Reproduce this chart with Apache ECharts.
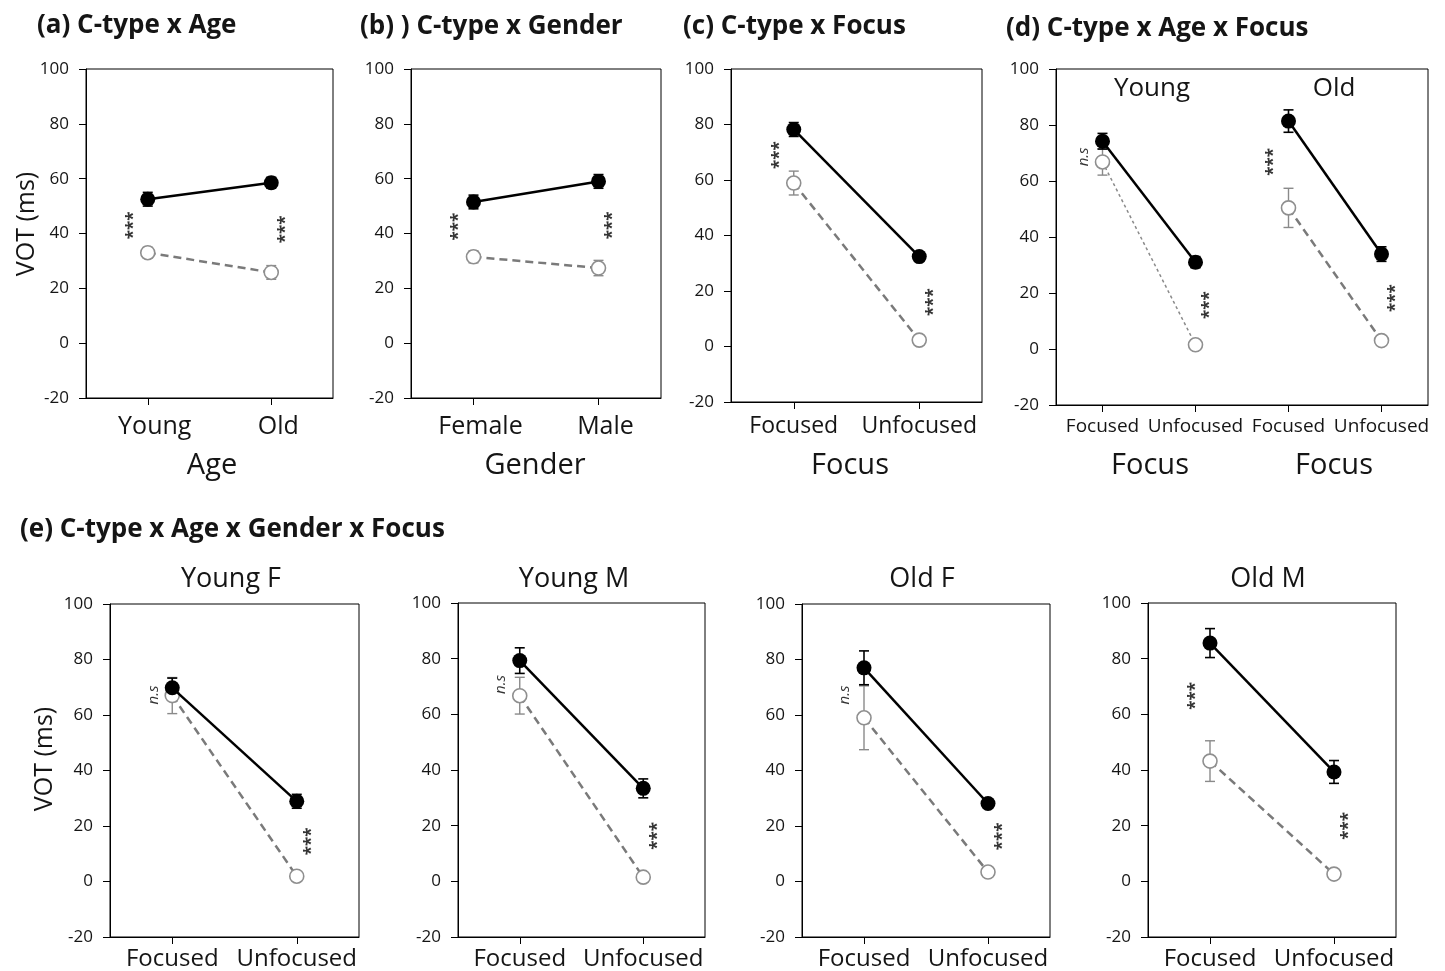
<!DOCTYPE html>
<html>
<head>
<meta charset="utf-8">
<script src="https://cdn.jsdelivr.net/npm/echarts@6/dist/echarts.min.js"></script>
<style>
  html, body { margin: 0; padding: 0; background: #fff; }
  #chart { width: 1445px; height: 971px; }
</style>
</head>
<body>
<div id="chart"></div>
<script>
// ---------------- DATA ----------------
// Panel (a) C-type x Age
const aCategories = ['Young', 'Old'];
const aFilled = [52.5, 58.5];
const aFilledErr = [2.5, 2.0];
const aOpen = [33.0, 25.8];
const aOpenErr = [2.0, 2.5];
const aSig = [[0, 43, '***', 'L'], [1, 41.5, '***', 'R']];

// Panel (b) C-type x Gender
const bCategories = ['Female', 'Male'];
const bFilled = [51.5, 59.0];
const bFilledErr = [2.5, 2.5];
const bOpen = [31.5, 27.4];
const bOpenErr = [2.2, 2.8];
const bSig = [[0, 42.5, '***', 'L'], [1, 43, '***', 'R']];

// Panel (c) C-type x Focus
const cCategories = ['Focused', 'Unfocused'];
const cFilled = [78.2, 32.4];
const cFilledErr = [2.5, 1.5];
const cOpen = [58.9, 2.3];
const cOpenErr = [4.3, 1.0];
const cSig = [[0, 69, '***', 'L'], [1, 16, '***', 'R']];

// Panel (d) C-type x Age x Focus
const dCategories = ['Focused', 'Unfocused', 'Focused', 'Unfocused'];
const dGroups = ['Young', 'Old'];
const dYoungFilled = [74.2, 31.0];
const dYoungFilledErr = [2.8, 2.0];
const dYoungOpen = [66.8, 1.5];
const dYoungOpenErr = [4.7, 0.8];
const dOldFilled = [81.4, 33.9];
const dOldFilledErr = [4.0, 2.6];
const dOldOpen = [50.4, 3.0];
const dOldOpenErr = [7.0, 1.0];
const dSig = [[0, 70.4, 'n.s', 'L'], [1, 15.7, '***', 'R'], [2, 66.8, '***', 'L'], [3, 18.2, '***', 'R']];

// Panel (e) C-type x Age x Gender x Focus
const eCategories = ['Focused', 'Unfocused'];
const eTitles = ['Young F', 'Young M', 'Old F', 'Old M'];
const eYoungFFilled = [69.8, 28.9];
const eYoungFFilledErr = [3.5, 2.5];
const eYoungFOpen = [67.0, 1.9];
const eYoungFOpenErr = [6.5, 1.0];
const eYoungFSig = [[0, 69, 'n.s', 'L'], [1, 14.5, '***', 'R']];

const eYoungMFilled = [79.3, 33.4];
const eYoungMFilledErr = [4.6, 3.4];
const eYoungMOpen = [66.7, 1.5];
const eYoungMOpenErr = [6.6, 1.0];
const eYoungMSig = [[0, 72.5, 'n.s', 'L'], [1, 16.3, '***', 'R']];

const eOldFFilled = [77.0, 28.1];
const eOldFFilledErr = [6.1, 1.5];
const eOldFOpen = [59.0, 3.4];
const eOldFOpenErr = [11.5, 1.0];
const eOldFSig = [[0, 69, 'n.s', 'L'], [1, 16.3, '***', 'R']];

const eOldMFilled = [85.6, 39.3];
const eOldMFilledErr = [5.2, 4.1];
const eOldMOpen = [43.2, 2.6];
const eOldMOpenErr = [7.3, 1.0];
const eOldMSig = [[0, 66.6, '***', 'L'], [1, 19.9, '***', 'R']];

const yMin = -20, yMax = 100, yInterval = 20;

// ---------------- LAYOUT ----------------
const FONT = "'Open Sans', 'Noto Sans', sans-serif";
const TXT = '#151515';
const grids = [
  { left: 86, top: 69, width: 247, height: 329 },   // a
  { left: 411, top: 69, width: 250, height: 329 },  // b
  { left: 731, top: 69, width: 251, height: 333 },  // c
  { left: 1056, top: 69, width: 372, height: 336 }, // d
  { left: 110, top: 604, width: 249, height: 334 }, // e1
  { left: 458, top: 603, width: 247, height: 335 }, // e2
  { left: 802, top: 604, width: 248, height: 334 }, // e3
  { left: 1148, top: 603, width: 248, height: 334 } // e4
];
const xLabelSize = [25, 25, 23, 19, 24, 24, 24, 24];
const xLabelMargin = [16, 16, 13, 12, 10, 10, 10, 10];
const xLabelPad = [[0, 0, 0, 14], [0, 0, 0, 14], 0, 0, 0, 0, 0, 0];
const xCats = [aCategories, bCategories, cCategories, dCategories, eCategories, eCategories, eCategories, eCategories];

const xAxes = [], yAxes = [], series = [];
grids.forEach((g, i) => {
  g.show = true; g.borderColor = '#000'; g.borderWidth = 1; g.containLabel = false;
  xAxes.push({
    type: 'category', gridIndex: i, data: xCats[i], boundaryGap: true,
    axisLine: { onZero: false, lineStyle: { color: '#000', width: 1 } },
    axisTick: { show: true, alignWithLabel: true, length: 7, lineStyle: { color: '#000' } },
    axisLabel: { color: TXT, fontSize: xLabelSize[i], fontFamily: FONT, margin: xLabelMargin[i],
                 interval: 0, padding: xLabelPad[i] },
    splitLine: { show: false }
  });
  yAxes.push({
    type: 'value', gridIndex: i, min: yMin, max: yMax, interval: yInterval,
    axisLine: { show: true, onZero: false, lineStyle: { color: '#000', width: 1 } },
    axisTick: { show: true, length: 7, lineStyle: { color: '#000' } },
    axisLabel: { color: TXT, fontSize: 17, fontFamily: FONT, margin: 17 },
    splitLine: { show: false }
  });
});

function errSeries(gi, idx, means, errs, color, width) {
  return {
    type: 'custom', xAxisIndex: gi, yAxisIndex: gi, z: 2, silent: true,
    data: means.map((m, k) => [idx[k], m, errs[k]]),
    renderItem: function (params, api) {
      const x = api.value(0), m = api.value(1), e = api.value(2);
      const t = api.coord([x, m + e]), b = api.coord([x, m - e]);
      const w = 5;
      const st = { stroke: color, lineWidth: width };
      return {
        type: 'group', children: [
          { type: 'line', shape: { x1: t[0], y1: t[1], x2: b[0], y2: b[1] }, style: st },
          { type: 'line', shape: { x1: t[0] - w, y1: t[1], x2: t[0] + w, y2: t[1] }, style: st },
          { type: 'line', shape: { x1: b[0] - w, y1: b[1], x2: b[0] + w, y2: b[1] }, style: st }
        ]
      };
    }
  };
}

function addGroup(gi, idx, filled, filledErr, open, openErr, openStyle) {
  series.push(errSeries(gi, idx, open, openErr, '#8a8a8a', 1.4));
  series.push(errSeries(gi, idx, filled, filledErr, '#000', 1.6));
  series.push({
    type: 'line', xAxisIndex: gi, yAxisIndex: gi, z: 3, silent: true,
    data: open.map((v, k) => [idx[k], v]),
    symbol: 'circle', symbolSize: 14,
    lineStyle: openStyle || { color: '#7a7a7a', width: 2.5, type: [8, 5] },
    itemStyle: { color: '#fff', borderColor: '#8f8f8f', borderWidth: 1.6 }
  });
  series.push({
    type: 'line', xAxisIndex: gi, yAxisIndex: gi, z: 4, silent: true,
    data: filled.map((v, k) => [idx[k], v]),
    symbol: 'circle', symbolSize: 15,
    lineStyle: { color: '#000', width: 2.5 },
    itemStyle: { color: '#000', borderColor: '#000', borderWidth: 0 }
  });
}

function addSig(gi, sig) {
  series.push({
    type: 'scatter', xAxisIndex: gi, yAxisIndex: gi, z: 5, silent: true,
    symbolSize: 1, itemStyle: { color: 'rgba(0,0,0,0)' },
    data: sig.map(s => {
      const ns = s[2] === 'n.s';
      const dx = s[3] === 'L' ? (ns ? -19 : -14) : 15;
      return {
        name: s[2], value: [s[0], s[1]],
        label: {
          show: true, position: 'inside', rotate: 90, offset: [ns ? -5 : 0, dx],
          formatter: '{b}', color: '#000', fontFamily: FONT,
          fontSize: ns ? 15 : 17, fontWeight: ns ? 'normal' : 'bold',
          fontStyle: ns ? 'italic' : 'normal'
        }
      };
    })
  });
}

addGroup(0, [0, 1], aFilled, aFilledErr, aOpen, aOpenErr); addSig(0, aSig);
addGroup(1, [0, 1], bFilled, bFilledErr, bOpen, bOpenErr); addSig(1, bSig);
addGroup(2, [0, 1], cFilled, cFilledErr, cOpen, cOpenErr); addSig(2, cSig);
addGroup(3, [0, 1], dYoungFilled, dYoungFilledErr, dYoungOpen, dYoungOpenErr,
  { color: '#8a8a8a', width: 1.5, type: [3, 3] });
addGroup(3, [2, 3], dOldFilled, dOldFilledErr, dOldOpen, dOldOpenErr);
addSig(3, dSig);
addGroup(4, [0, 1], eYoungFFilled, eYoungFFilledErr, eYoungFOpen, eYoungFOpenErr); addSig(4, eYoungFSig);
addGroup(5, [0, 1], eYoungMFilled, eYoungMFilledErr, eYoungMOpen, eYoungMOpenErr); addSig(5, eYoungMSig);
addGroup(6, [0, 1], eOldFFilled, eOldFFilledErr, eOldFOpen, eOldFOpenErr); addSig(6, eOldFSig);
addGroup(7, [0, 1], eOldMFilled, eOldMFilledErr, eOldMOpen, eOldMOpenErr); addSig(7, eOldMSig);

// ---------------- TEXT ----------------
function txt(text, x, y, size, opts) {
  opts = opts || {};
  return {
    type: 'text', x: x, y: y, rotation: opts.rot || 0, z: 10, silent: true,
    style: {
      text: text, fill: TXT, font: (opts.bold ? 'bold ' : '') + size + 'px ' + FONT,
      align: opts.align || 'center', verticalAlign: 'middle'
    }
  };
}
const graphic = [
  txt('(a) C-type x Age', 37, 26, 26, { bold: true, align: 'left' }),
  txt('(b) ) C-type x Gender', 360, 27, 26, { bold: true, align: 'left' }),
  txt('(c) C-type x Focus', 683, 27, 26, { bold: true, align: 'left' }),
  txt('(d) C-type x Age x Focus', 1006, 29, 26, { bold: true, align: 'left' }),
  txt('(e) C-type x Age x Gender x Focus', 20, 530, 26, { bold: true, align: 'left' }),
  txt('VOT (ms)', 27, 224, 25, { rot: Math.PI / 2 }),
  txt('VOT (ms)', 45, 759, 25, { rot: Math.PI / 2 }),
  txt('Age', 212, 466, 29),
  txt('Gender', 535, 466, 29),
  txt('Focus', 850, 466, 29),
  txt('Focus', 1150, 466, 29),
  txt('Focus', 1334, 466, 29),
  txt(dGroups[0], 1152, 89, 26),
  txt(dGroups[1], 1334, 89, 26),
  txt(eTitles[0], 231, 579, 27),
  txt(eTitles[1], 574, 579, 27),
  txt(eTitles[2], 922, 579, 27),
  txt(eTitles[3], 1268, 579, 27)
];

const chart = echarts.init(document.getElementById('chart'), null, { renderer: 'canvas' });
chart.setOption({
  animation: false,
  backgroundColor: '#fff',
  textStyle: { fontFamily: FONT },
  grid: grids,
  xAxis: xAxes,
  yAxis: yAxes,
  series: series,
  graphic: graphic
});
</script>
</body>
</html>
